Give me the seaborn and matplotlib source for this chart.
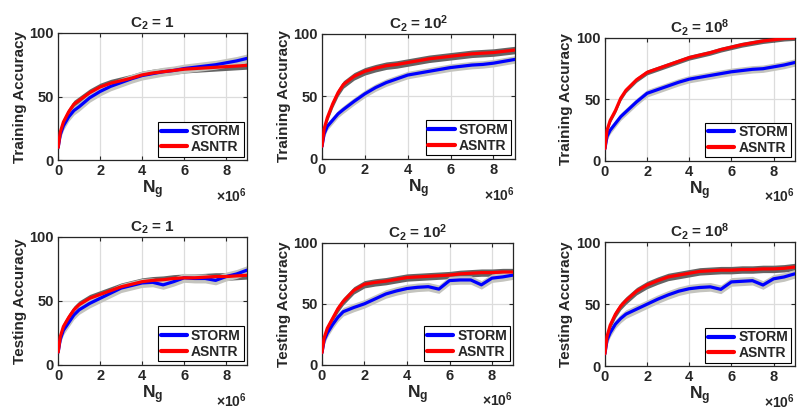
import numpy as np
import pandas as pd
import matplotlib
matplotlib.use('Agg')
import matplotlib.pyplot as plt
import seaborn as sns

# ---------------------- data ---------------------- #
ng = [0, 0.1, 0.25, 0.5, 0.75, 1, 1.5, 2, 2.5, 3, 3.5, 4, 4.5, 5, 5.5, 6, 6.5, 7, 7.5, 8, 8.5, 9]

train_c1_storm = [10, 20, 27, 34, 39, 42, 49, 54, 58, 61, 64, 66.5, 68, 69.5, 70.5, 72, 73, 74, 75, 76.5, 78, 80]
train_c1_asntr = [10, 22, 30, 38, 44, 47, 53, 57.5, 60.5, 62.5, 64.5, 67, 68.5, 69.5, 70.5, 71.5, 72, 72.5, 73, 73.5, 74, 74.5]
train_c2_storm = [10, 20, 26, 31, 36, 39.5, 46, 52, 57, 61, 64, 67, 68.5, 70, 71.5, 73, 74, 75, 75.5, 76.5, 78, 79.5]
train_c2_asntr = [10, 24, 33, 44, 53, 59.5, 66, 70, 72.5, 74.5, 75.5, 77, 78.5, 80, 81, 82, 83, 84, 84.5, 85, 86, 87]
train_c8_storm = [10, 20, 25, 30.5, 36, 40, 48, 55, 58, 61, 64, 66.5, 68, 69.5, 71, 72.5, 73.5, 74.5, 75, 76.5, 78, 80]
train_c8_asntr = [10, 25, 33, 41, 51, 57.5, 66, 72, 75, 78, 81, 84, 86, 88, 90.5, 92.5, 94.5, 96, 97.5, 98.5, 99.5, 100]

test_c1_storm = [10, 20, 27, 33, 39, 43, 48, 52, 56, 60, 62, 64, 64.5, 62.5, 65, 68, 67.5, 67.5, 66, 69, 71, 74]
test_c1_asntr = [10, 22, 30, 37, 43, 47, 52, 55, 58, 61, 63, 65, 66, 66.5, 67.5, 68, 68, 68.5, 69, 69, 69.5, 70]
test_c2_storm = [10, 20, 26, 33, 39, 43.5, 47, 50, 54, 58, 60.5, 62.5, 63.5, 64, 62, 69, 69.5, 69.5, 65.5, 71, 72, 73.5]
test_c2_asntr = [10, 22, 30, 38, 46, 52, 61, 66, 67.5, 68.5, 70, 71.5, 72, 72.5, 73, 73.5, 74.5, 75, 75.5, 75.5, 76, 76]
test_c8_storm = [10, 21, 27, 34, 38.5, 42, 46, 50, 54, 57.5, 60.5, 62.5, 63.5, 64, 62, 68, 68.5, 69, 65.5, 70.5, 72, 74.5]
test_c8_asntr = [10, 24, 33, 42, 48.5, 53, 60.5, 65.5, 69, 72, 73.5, 75, 76.5, 77, 77.5, 77.5, 78, 78, 78.5, 78.5, 79, 80]

# spread (half width of the gray band) per panel: [STORM, ASNTR]
spread_train = [[3.5, 3.0], [3.0, 3.0], [3.0, 2.0]]
spread_test = [[3.5, 3.0], [3.5, 3.0], [3.5, 3.0]]

titles = [r'$C_2$ = 1', r'$C_2$ = $10^2$', r'$C_2$ = $10^8$']
methods = ['STORM', 'ASNTR']

# ---------------------- style ---------------------- #
sns.set_theme(style='ticks')
plt.rcParams['font.family'] = ['Liberation Sans', 'DejaVu Sans']
plt.rcParams['font.weight'] = 'bold'
plt.rcParams['mathtext.fontset'] = 'custom'
plt.rcParams['mathtext.rm'] = 'Liberation Sans:bold'
plt.rcParams['mathtext.it'] = 'Liberation Sans:bold'
plt.rcParams['mathtext.bf'] = 'Liberation Sans:bold'
plt.rcParams['mathtext.default'] = 'bf'

palette = {'STORM': '#0000ff', 'ASNTR': '#ff0000'}
band_col = {'STORM': '#c4c4be', 'ASNTR': '#646464'}

fig = plt.figure(figsize=(7.97, 4.17), dpi=100)

# axes boxes in figure fractions: [left, bottom, width, height]
boxes = [
    [0.073, 0.616, 0.237, 0.305], [0.404, 0.619, 0.242, 0.300], [0.759, 0.614, 0.238, 0.295],
    [0.073, 0.125, 0.237, 0.307], [0.404, 0.125, 0.240, 0.293], [0.759, 0.122, 0.238, 0.297],
]

rows = [
    ('Training Accuracy', [(train_c1_storm, train_c1_asntr), (train_c2_storm, train_c2_asntr),
                           (train_c8_storm, train_c8_asntr)], spread_train),
    ('Testing Accuracy', [(test_c1_storm, test_c1_asntr), (test_c2_storm, test_c2_asntr),
                          (test_c8_storm, test_c8_asntr)], spread_test),
]

k = 0
for ylab, pairs, spreads in rows:
    for j, (storm, asntr) in enumerate(pairs):
        ax = fig.add_axes(boxes[k])
        k += 1
        df = pd.DataFrame({
            'Ng': ng * 2,
            'acc': storm + asntr,
            'method': ['STORM'] * len(ng) + ['ASNTR'] * len(ng),
        })
        # gray bands first, ASNTR band under STORM like the reference
        for m, vals, s in [('ASNTR', asntr, spreads[j][1]), ('STORM', storm, spreads[j][0])]:
            v = np.array(vals)
            ax.fill_between(ng, v - s, v + s, color=band_col[m], lw=0, zorder=1)
        sns.lineplot(data=df, x='Ng', y='acc', hue='method', hue_order=methods,
                     palette=palette, lw=2.3, ax=ax, zorder=3)

        ax.set_xlim(0, 9)
        ax.set_ylim(0, 100)
        ax.set_xticks([0, 2, 4, 6, 8])
        ax.set_yticks([0, 50, 100])
        ax.grid(True, color='#dcdcdc', lw=0.9)
        ax.set_axisbelow(True)
        ax.tick_params(direction='in', length=3, width=0.8, labelsize=10.5, pad=3,
                       top=True, right=True)
        for lab in ax.get_xticklabels() + ax.get_yticklabels():
            lab.set_fontweight('bold')
        for sp in ax.spines.values():
            sp.set_linewidth(0.9)
            sp.set_color('#262626')

        ax.set_title(titles[j], fontsize=11, fontweight='bold', pad=4)
        ax.set_xlabel(r'$N_g$', fontsize=12.5, labelpad=0)
        ax.set_ylabel(ylab, fontsize=11, fontweight='bold', labelpad=2)
        ax.text(1.0, -0.21, r'$\times\mathregular{10^6}$', transform=ax.transAxes,
                ha='right', va='top', fontsize=10)

        leg = ax.legend(loc='lower right', fontsize=10, frameon=True, fancybox=False,
                        edgecolor='black', framealpha=1, handlelength=1.9,
                        borderpad=0.2, labelspacing=0.1, handletextpad=0.3,
                        borderaxespad=0.25)
        leg.get_frame().set_linewidth(0.8)
        for t in leg.get_texts():
            t.set_fontweight('bold')
        for h in leg.get_lines():
            h.set_linewidth(3)

fig.savefig('out.png', dpi=100)
